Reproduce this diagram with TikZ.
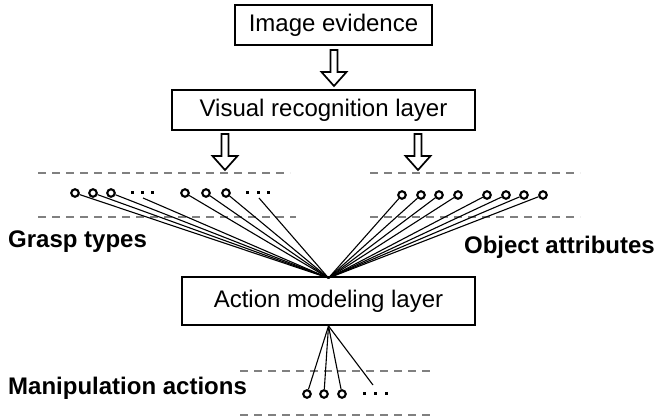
\documentclass[tikz,border=0pt]{standalone}
\usepackage{fontspec}
\setmainfont{Liberation Sans}
\begin{document}
\begin{tikzpicture}[x=1pt,y=-1pt,
 box/.style={draw, line width=2pt, inner sep=0pt, font=\fontsize{24}{28}\selectfont},
 lbl/.style={font=\fontsize{24}{28}\selectfont\bfseries, inner sep=0pt},
 dashline/.style={draw=black!50, line width=1.6pt, dash pattern=on 8pt off 6pt},
 unit/.style={circle, draw, line width=2.1pt, minimum size=7.5pt, inner sep=0pt},
 dotm/.style={fill, inner sep=0pt, minimum size=3pt},
 link/.style={line width=1.1pt},
 harrow/.pic={\draw[line width=1.7pt, line join=miter, fill=white]
   (-3.5,0) -- (-3.5,22) -- (-12.5,22) -- (0,36) -- (12.5,22) -- (3.5,22) -- (3.5,0) -- cycle;}
]
\useasboundingbox (0,0) rectangle (657,417);

% boxes
\node[box, minimum width=197pt, minimum height=40pt] (img) at (333.5,25) {Image evidence};
\node[box, minimum width=303pt, minimum height=40pt] (vis) at (323.5,110) {Visual recognition layer};
\node[box, minimum width=293pt, minimum height=48pt] (act) at (328.5,301) {Action modeling layer};

% hollow arrows
\pic at (334,50) {harrow};
\pic at (225,134) {harrow};
\pic at (418,134) {harrow};

% dashed lines
\draw[dashline] (38,173) -- (290,173);
\draw[dashline] (38,217) -- (296,217);
\draw[dashline] (370,173) -- (580,173);
\draw[dashline] (370,217) -- (580,217);
\draw[dashline] (240,371) -- (434,371);
\draw[dashline] (240,415) -- (434,415);

% labels
\node[lbl, anchor=base west] (gt) at (8,248) {Grasp types};
\node[lbl, anchor=base east] (oa) at (655,254) {Object attributes};
\node[lbl, anchor=base west] (ma) at (8,395) {Manipulation actions};

% convergence points
\coordinate (conv) at ([yshift=-2pt]act.north);
\coordinate (convb) at (act.south);

% left grasp units
\foreach \n/\x in {L1/75,L2/93,L3/111,L4/185,L5/206,L6/226}
  \node[unit] (\n) at (\x,193) {};
\foreach \n/\x in {da1/132,da2/142,da3/152,db1/247,db2/258,db3/268}
  \node[dotm] (\n) at (\x,193) {};
\coordinate (Ld1) at (143,198);
\coordinate (Ld2) at (259,198);
\foreach \n in {L1,L2,L3,Ld1,L4,L5,L6,Ld2}
  \draw[link] (\n) -- (conv);

% right attribute units
\foreach \n/\x in {R1/402,R2/421,R3/439,R4/458,R5/487,R6/506,R7/524,R8/543}
  \node[unit] (\n) at (\x,195) {};
\foreach \n in {R1,R2,R3,R4,R5,R6,R7,R8}
  \draw[link] (\n) -- (conv);

% bottom action units
\foreach \n/\x in {B1/307,B2/324,B3/342}
  \node[unit] (\n) at (\x,394) {};
\foreach \n/\x in {dc1/364,dc2/375,dc3/386}
  \node[dotm] (\n) at (\x,393) {};
\coordinate (Bd) at (373,385);
\foreach \n in {B1,B2,B3,Bd}
  \draw[link] (convb) -- (\n);
\end{tikzpicture}
\end{document}
